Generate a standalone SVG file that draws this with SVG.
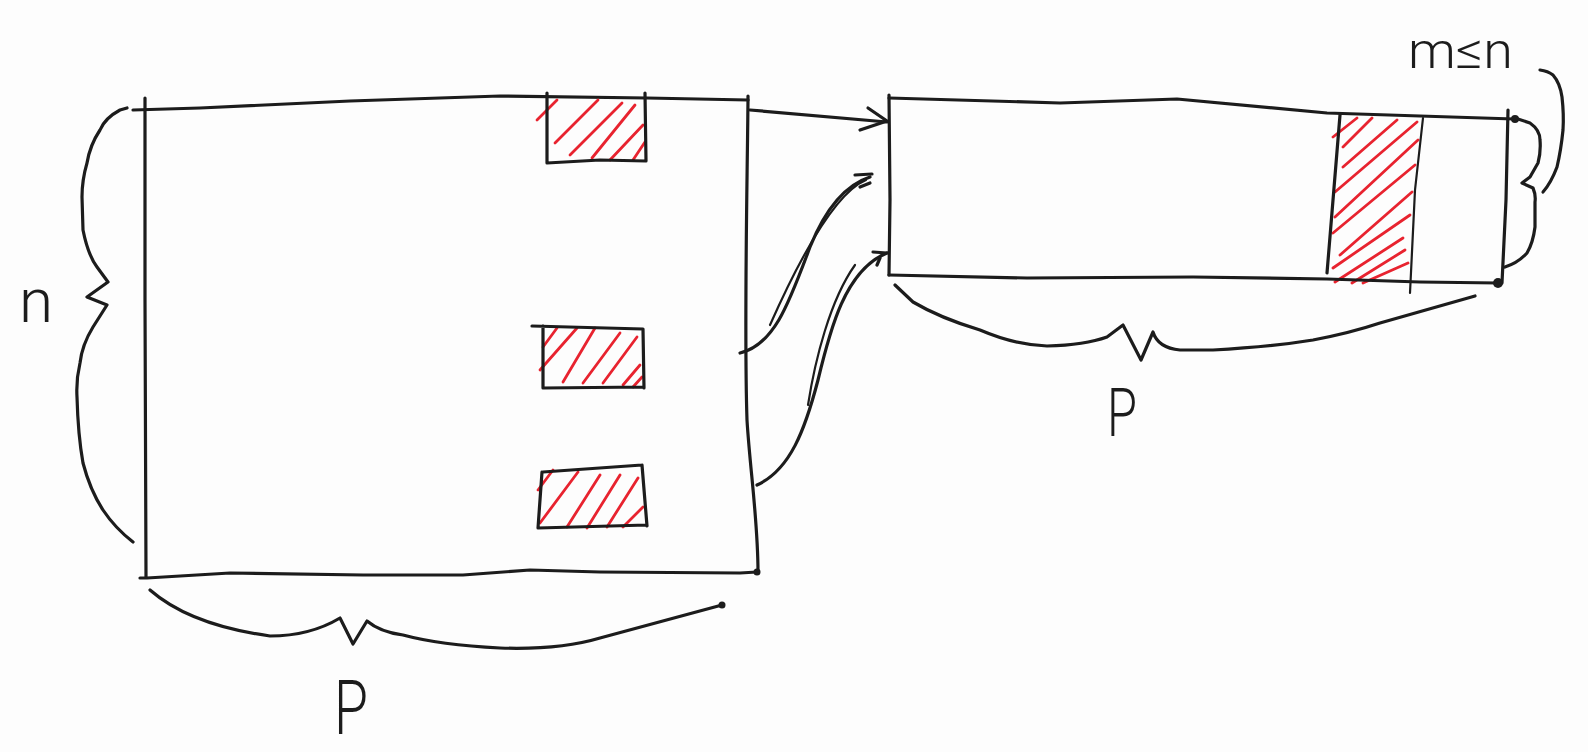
<svg xmlns="http://www.w3.org/2000/svg" width="1588" height="752" viewBox="0 0 1588 752">
<style>
.ink{fill:none;stroke:#1c1c1c;stroke-width:3.2;stroke-linecap:round;stroke-linejoin:round}
.thin{fill:none;stroke:#1c1c1c;stroke-width:2.2;stroke-linecap:round;stroke-linejoin:round}
.hatch{fill:none;stroke:#e8232f;stroke-width:2.8;stroke-linecap:round;stroke-linejoin:round}
.dot{fill:#1c1c1c}
.lbl{fill:#1c1c1c;font-family:Roboto,"Liberation Sans",sans-serif;font-weight:300}
</style>
<defs/>
<rect x="0" y="0" width="1588" height="752" fill="#fdfdfd"/>

<g id="big-matrix">
  <path class="ink" d="M133,110 L200,108 L350,101 L500,96 L647,98 L748,100"/>
  <path class="ink" d="M145,98 L145,300 L146,577"/>
  <path class="ink" d="M140,578 L147,578 L230,573 L363,575 L463,575 L530,570 L600,572 L740,573 L757,572"/>
  <path class="ink" d="M748,96 L748,100 C747,200 744,330 747,420 C750,470 758,520 758,572"/>
  <circle class="dot" cx="757" cy="572" r="3.5"/>
</g>

<g id="block-1">
  <path class="hatch" d="M537,120 L557,100 M555,143 L598,100 M570,155 L622,103 M592,158 L635,105 M610,160 L643,125 M633,160 L645,142"/>
  <path class="ink" d="M547,93 L547,163 M645,93 L646,161 M547,163 L600,160 L646,161"/>
</g>

<g id="block-2">
  <path class="hatch" d="M543,347 L557,328 M540,370 L577,328 M563,382 L595,328 M583,383 L620,333 M603,383 L637,337 M623,385 L640,365 M633,387 L642,377"/>
  <path class="ink" d="M532,326 L643,329 M543,326 L543,388 M643,329 L644,388 M543,388 L644,387"/>
</g>

<g id="block-3">
  <path class="hatch" d="M538,490 L553,470 M540,523 L578,472 M567,527 L600,475 M587,528 L620,475 M607,527 L638,478 M623,527 L643,507"/>
  <path class="ink" d="M543,472 L642,465 M542,472 L538,528 M642,465 L647,526 M538,528 L647,525"/>
</g>

<g id="brace-n">
  <path class="ink" d="M127,108 L120,110 Q105,118 100,130 Q90,145 87,163 Q82,180 82,197 L83,230 Q88,255 97,267 L108,282 L87,297 L107,305 L93,327 Q82,345 80,363 Q76,380 77,397 Q78,435 83,463 Q90,490 103,510 Q115,528 133,542"/>
  <text class="lbl" x="19" y="322" font-size="62">n</text>
</g>

<g id="brace-p-left">
  <path class="ink" d="M150,590 Q190,625 270,636 Q310,636 340,618 L353,644 L367,621 Q380,632 403,635 Q440,645 500,648 Q560,650 600,638 L722,605"/>
  <circle class="dot" cx="722" cy="605" r="3.5"/>
  <text class="lbl" x="334" y="734" font-size="76" textLength="34" lengthAdjust="spacingAndGlyphs">P</text>
</g>

<g id="small-matrix">
  <path class="hatch" d="M1333,137 L1357,118 M1343,147 L1372,118 M1343,167 L1397,120 M1335,192 L1417,122 M1335,217 L1418,140 M1333,233 L1415,165 M1340,255 L1412,192 M1333,268 L1410,215 M1335,282 L1403,238 M1352,283 L1405,250 M1363,283 L1408,263"/>
  <path class="ink" d="M889,98 L1060,103 L1177,99 L1327,113 L1420,116 L1514,119"/>
  <path class="ink" d="M889,95 L890,200 L889,275"/>
  <path class="ink" d="M889,275 L1027,278 L1193,277 L1327,279 L1420,282 L1498,283"/>
  <path class="ink" d="M1508,110 L1506,200 L1502,283"/>
  <path class="ink" d="M1340,115 L1327,273"/>
  <path class="thin" d="M1423,118 L1415,190 L1410,293"/>
  <circle class="dot" cx="1515" cy="119" r="4"/>
  <circle class="dot" cx="1498" cy="283" r="5"/>
</g>

<g id="brace-p-right">
  <path class="ink" d="M895,285 L913,302 Q940,318 980,330 Q1015,345 1047,346 Q1085,345 1107,337 L1123,325 L1141,360 L1153,332 Q1158,348 1180,350 L1213,350 Q1270,347 1313,340 Q1350,333 1380,323 L1475,296"/>
  <text class="lbl" x="1107" y="436" font-size="66" textLength="30" lengthAdjust="spacingAndGlyphs">P</text>
</g>

<g id="brace-m">
  <path class="ink" d="M1515,118 L1530,123 Q1540,130 1540,140 Q1541,152 1538,163 L1530,177 L1522,183 L1533,188 Q1536,195 1535,202 L1535,227 Q1533,243 1527,253 Q1518,263 1505,267"/>
  <path class="ink" d="M1540,70 Q1548,71 1553,75 Q1560,83 1562,97 Q1564,115 1563,130 Q1561,150 1557,167 Q1551,183 1543,192"/>
  <text class="lbl" x="1408" y="68" font-size="50" textLength="105" lengthAdjust="spacingAndGlyphs">m≤n</text>
</g>

<g id="connectors">
  <path class="ink" d="M750,110 L887,122"/>
  <path class="ink" d="M868,108 L887,121 L860,130"/>
  <path class="ink" d="M740,353 C775,345 790,300 810,247 C825,210 845,185 870,177"/>
  <path class="thin" d="M770,325 C790,280 830,195 866,180"/>
  <path class="ink" d="M855,175 L872,174 M860,187 L870,183"/>
  <path class="ink" d="M757,485 C790,470 805,430 818,380 C830,330 845,270 887,253"/>
  <path class="thin" d="M808,405 C815,360 830,300 855,265"/>
  <path class="ink" d="M873,252 L887,253 M877,265 L880,258"/>
</g>
</svg>
